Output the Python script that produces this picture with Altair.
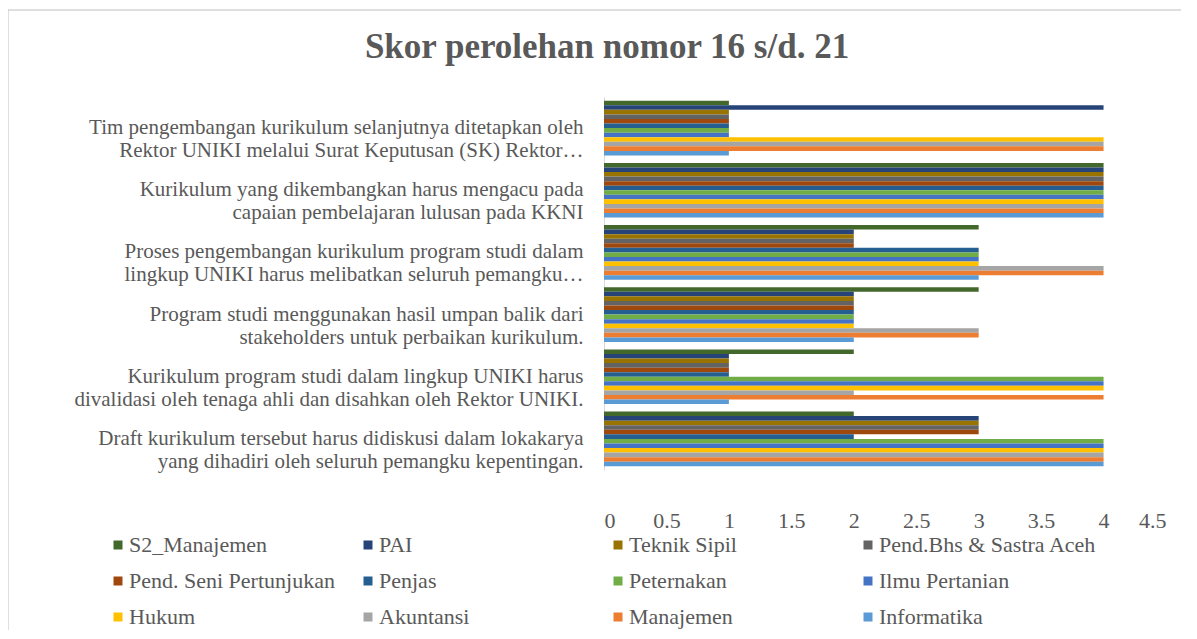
import altair as alt
import pandas as pd

categories = [
    "Tim pengembangan kurikulum selanjutnya ditetapkan oleh|Rektor UNIKI melalui Surat Keputusan (SK) Rektor…",
    "Kurikulum yang dikembangkan harus mengacu pada|capaian pembelajaran lulusan pada KKNI",
    "Proses pengembangan kurikulum program studi dalam|lingkup UNIKI harus melibatkan seluruh pemangku…",
    "Program studi menggunakan hasil umpan balik dari|stakeholders untuk perbaikan kurikulum.",
    "Kurikulum program studi dalam lingkup UNIKI harus|divalidasi oleh tenaga ahli dan disahkan oleh Rektor UNIKI.",
    "Draft kurikulum tersebut harus didiskusi dalam lokakarya|yang dihadiri oleh seluruh pemangku kepentingan.",
]

series = [
    "S2_Manajemen", "PAI", "Teknik Sipil", "Pend.Bhs & Sastra Aceh",
    "Pend. Seni Pertunjukan", "Penjas", "Peternakan", "Ilmu Pertanian",
    "Hukum", "Akuntansi", "Manajemen", "Informatika",
]

colors = [
    "#43682B", "#264478", "#997300", "#636363",
    "#9E480E", "#255E91", "#70AD47", "#4472C4",
    "#FFC000", "#A5A5A5", "#ED7D31", "#5B9BD5",
]

s2_manajemen = [1, 4, 3, 3, 2, 2]
pai = [4, 4, 2, 2, 1, 3]
teknik_sipil = [1, 4, 2, 2, 1, 3]
pend_bhs = [1, 4, 2, 2, 1, 3]
pend_seni = [1, 4, 2, 2, 1, 3]
penjas = [1, 4, 3, 2, 1, 2]
peternakan = [1, 4, 3, 2, 4, 4]
ilmu_pertanian = [1, 4, 3, 2, 4, 4]
hukum = [4, 4, 3, 2, 4, 4]
akuntansi = [4, 4, 4, 3, 2, 4]
manajemen = [4, 4, 4, 3, 4, 4]
informatika = [1, 4, 3, 2, 1, 4]

values = [s2_manajemen, pai, teknik_sipil, pend_bhs, pend_seni, penjas,
          peternakan, ilmu_pertanian, hukum, akuntansi, manajemen, informatika]

x_ticks = [0, 0.5, 1, 1.5, 2, 2.5, 3, 3.5, 4, 4.5]

rows = []
for s, vals in zip(series, values):
    for c, v in zip(categories, vals):
        rows.append({"kategori": c, "prodi": s, "skor": v})
df = pd.DataFrame(rows)

FONT = "'Liberation Serif', 'Times New Roman', serif"
TXT = "#595959"

bars = alt.Chart(df).mark_bar().encode(
    x=alt.X("skor:Q", scale=alt.Scale(domain=[0, 4.5], nice=False),
            axis=alt.Axis(values=x_ticks, format="~g", title=None, grid=False,
                          domain=False, ticks=False, labelPadding=40,
                          labelFontSize=22, labelFont=FONT, labelColor=TXT)),
    y=alt.Y("kategori:N", sort=categories,
            scale=alt.Scale(paddingInner=0.12, paddingOuter=0.06),
            axis=alt.Axis(title=None, ticks=False, domainColor="#d9d9d9",
                          labelExpr="split(datum.label, '|')",
                          labelFontSize=21, labelFont=FONT, labelColor=TXT,
                          labelLineHeight=23, labelPadding=21, labelLimit=700,
                          labelAlign="right")),
    yOffset=alt.YOffset("prodi:N", sort=series, scale=alt.Scale(paddingInner=0)),
    color=alt.Color("prodi:N", sort=series,
                    scale=alt.Scale(domain=series, range=colors),
                    legend=alt.Legend(title=None, orient="none", legendX=-497,
                                      legendY=437, columns=4, direction="horizontal",
                                      symbolType="square",
                                      symbolSize=81, symbolStrokeWidth=0,
                                      labelFont=FONT, labelFontSize=22,
                                      labelColor=TXT, labelOffset=0,
                                      rowPadding=14, columnPadding=10,
                                      gridAlign="all", padding=0, labelLimit=400)),
)

frame = alt.Chart(pd.DataFrame({"a": [0]})).mark_rect(
    fill=None, stroke="#bfbfbf", strokeWidth=1
).encode(
    x=alt.value(-596), x2=alt.value(700), y=alt.value(-87), y2=alt.value(700)
)

chart = alt.layer(frame, bars).properties(
    width=562, height=373,
    autosize=alt.AutoSizeParams(type="none"),
    padding={"left": 596, "top": 89, "right": 15, "bottom": 160},
    title=alt.TitleParams("Skor perolehan nomor 16 s/d. 21", font=FONT,
                          fontSize=35, fontWeight="bold", color=TXT,
                          anchor="middle", frame="group", dx=-278, offset=-55),
).configure_view(stroke=None)

chart.save("out.html", embed_options={"renderer": "svg", "actions": False})
